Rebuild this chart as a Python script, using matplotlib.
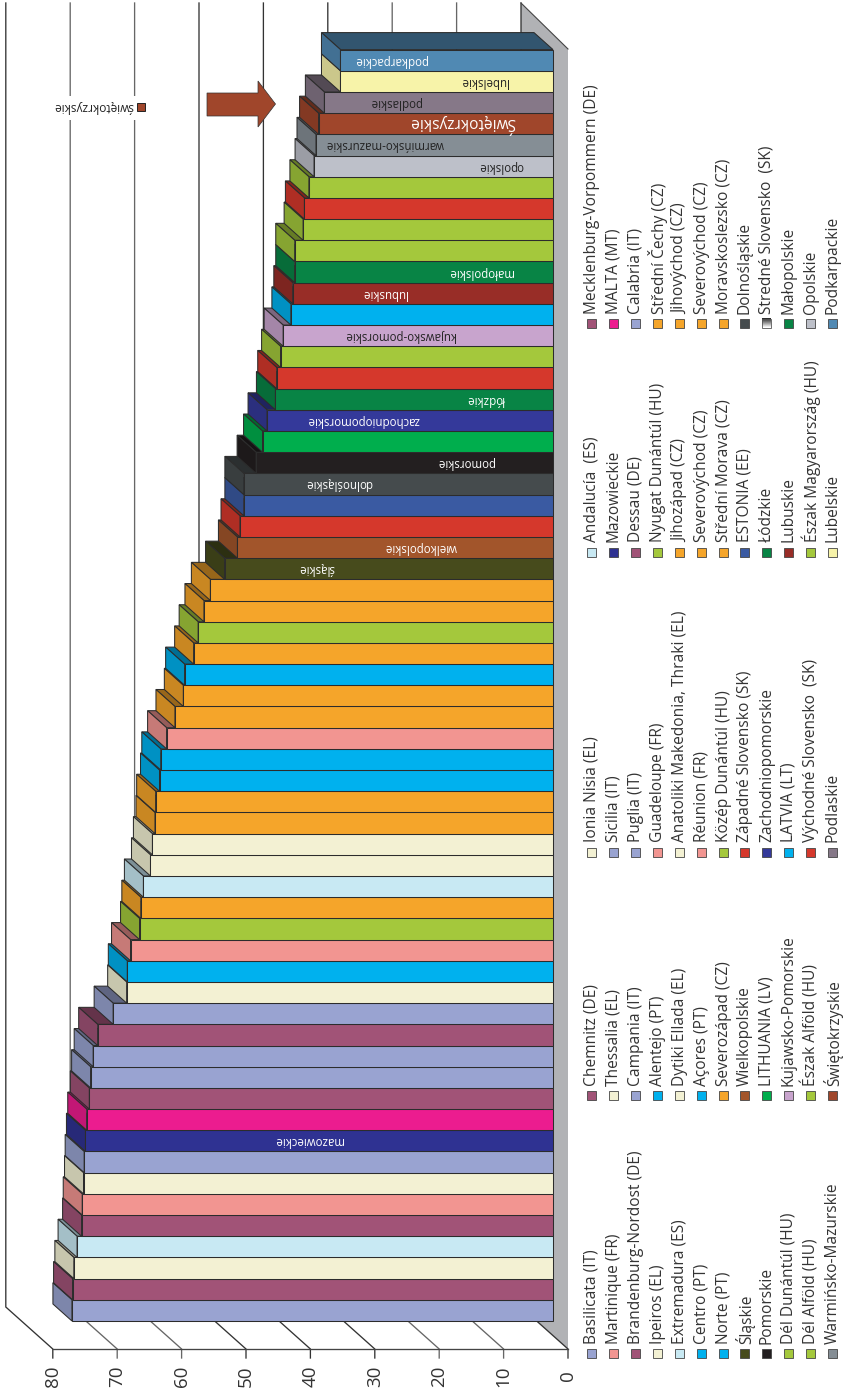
import numpy as np
import matplotlib
matplotlib.use("Agg")
import matplotlib.pyplot as plt
from matplotlib.patches import Polygon, Rectangle

plt.rcParams["font.family"] = ["Open Sans", "DejaVu Sans"]

# palette
C = {
    "lilac": "#99a3d1", "plum": "#a15377", "cream": "#f3f1d3", "lblue": "#c8e9f3",
    "pink": "#f29591", "navy": "#2f3292", "magenta": "#ec1c8f", "cyan": "#00b1ee",
    "green": "#a4c83c", "orange": "#f5a52a", "olive": "#474b1c", "brown": "#a2552b",
    "red": "#d5382c", "blue": "#3a5aa2", "dark": "#454b4d", "black": "#231f20",
    "lgreen": "#00ae4d", "znavy": "#34399a", "dgreen": "#088445", "kuj": "#c8a4cd",
    "maroon": "#982d27", "lgrey": "#bdc0c9", "warm": "#858e95", "rust": "#a0462b",
    "podl": "#867888", "yellow": "#f7f3a9", "steel": "#5089b3",
}

# bars, bottom of the picture first
bar_values = [
    74.7, 74.6, 74.4, 73.9, 73.2, 73.1, 72.9, 72.8, 72.6, 72.4,
    72.0, 71.8, 71.4, 70.7, 68.3, 66.2, 66.1, 65.6, 64.2, 64.0,
    63.6, 62.5, 62.2, 61.8, 61.7, 61.1, 60.9, 60.0, 58.7, 57.4,
    57.2, 55.8, 55.1, 54.2, 53.2, 51.0, 49.0, 48.6, 48.0, 48.0,
    46.1, 45.1, 44.4, 43.1, 42.9, 42.3, 41.9, 40.7, 40.4, 40.1,
    40.1, 38.8, 38.6, 37.9, 37.1, 36.8, 36.4, 35.5, 33.0, 33.0,
]
bar_colors = [
    "lilac", "plum", "cream", "lblue", "plum", "pink", "cream", "lilac", "navy", "magenta",
    "plum", "lilac", "lilac", "plum", "lilac", "cream", "cyan", "pink", "green", "orange",
    "lblue", "cream", "cream", "orange", "orange", "cyan", "cyan", "pink", "orange", "orange",
    "cyan", "orange", "green", "orange", "orange", "olive", "brown", "red", "blue", "dark",
    "black", "lgreen", "znavy", "dgreen", "red", "green", "kuj", "cyan", "maroon", "dgreen",
    "green", "green", "red", "green", "lgrey", "warm", "rust", "podl", "yellow", "steel",
]

# labels printed on the bars: bar index, text, colour, centre in px
bar_labels = [
    (8, "mazowieckie", "white", 309),
    (35, "śląskie", "white", 316),
    (36, "wielkopolskie", "white", 421),
    (39, "dolnośląskie", "white", 339),
    (40, "pomorskie", "white", 465),
    (42, "zachodniopomorskie", "white", 363),
    (43, "łódzkie", "white", 487),
    (46, "kujawsko-pomorskie", "#222222", 400),
    (48, "lubuskie", "white", 385),
    (49, "małopolskie", "white", 481),
    (54, "opolskie", "#222222", 501),
    (55, "warmińsko-mazurskie", "#222222", 385),
    (57, "podlaskie", "#222222", 395),
    (58, "lubelskie", "#222222", 484),
    (59, "podkarpackie", "white", 391),
]

tick_values = [0, 10, 20, 30, 40, 50, 60, 70, 80]

legend_names = [
    ["Basilicata (IT)", "Martinique (FR)", "Brandenburg-Nordost (DE)", "Ipeiros (EL)",
     "Extremadura (ES)", "Centro (PT)", "Norte (PT)", "Śląskie", "Pomorskie",
     "Dél Dunántúl (HU)", "Dél Alföld (HU)", "Warmińsko-Mazurskie"],
    ["Chemnitz (DE)", "Thessalia (EL)", "Campania (IT)", "Alentejo (PT)",
     "Dytiki Ellada (EL)", "Açores (PT)", "Severozápad (CZ)", "Wielkopolskie",
     "LITHUANIA (LV)", "Kujawsko-Pomorskie", "Észak Alföld (HU)", "Świętokrzyskie"],
    ["Ionia Nisia (EL)", "Sicilia (IT)", "Puglia (IT)", "Guadeloupe (FR)",
     "Anatoliki Makedonia, Thraki (EL)", "Réunion (FR)", "Közép Dunántúl (HU)",
     "Západné Slovensko (SK)", "Zachodniopomorskie", "LATVIA (LT)",
     "Východné Slovensko  (SK)", "Podlaskie"],
    ["Andalucía  (ES)", "Mazowieckie", "Dessau (DE)", "Nyugat Dunántúl (HU)",
     "Jihozápad (CZ)", "Severovýchod (CZ)", "Střední Morava (CZ)", "ESTONIA (EE)",
     "Łódzkie", "Lubuskie", "Észak Magyarország (HU)", "Lubelskie"],
    ["Mecklenburg-Vorpommern (DE)", "MALTA (MT)", "Calabria (IT)", "Střední Čechy (CZ)",
     "Jihovýchod (CZ)", "Severovýchod (CZ)", "Moravskoslezsko (CZ)", "Dolnośląskie",
     "Stredné Slovensko  (SK)", "Małopolskie", "Opolskie", "Podkarpackie"],
]
legend_colors = [
    ["lilac", "pink", "plum", "cream", "lblue", "cyan", "cyan", "olive", "black", "green", "green", "warm"],
    ["plum", "cream", "lilac", "cyan", "cream", "cyan", "orange", "brown", "lgreen", "kuj", "green", "rust"],
    ["cream", "lilac", "lilac", "pink", "cream", "pink", "green", "red", "znavy", "cyan", "red", "podl"],
    ["lblue", "navy", "plum", "green", "orange", "orange", "orange", "blue", "dgreen", "maroon", "green", "yellow"],
    ["plum", "magenta", "lilac", "orange", "orange", "orange", "orange", "dark", None, "dgreen", "lgrey", "steel"],
]

W, H = 845, 1392
PX_PER_UNIT = 6.44
PX_PER_BAR = 21.19
X0, Y0 = 553, 1321  # front corner of the first bar


def shade(color, k):
    rgb = np.array(matplotlib.colors.to_rgb(color))
    return tuple(rgb * k)


def to_value(px):
    return (X0 - px) / PX_PER_UNIT


fig = plt.figure(figsize=(W / 100, H / 100), dpi=100)

# back layer in pixel coordinates: walls, floor, ticks, legends
deco = fig.add_axes([0, 0, 1, 1], zorder=1)
deco.set_xlim(0, W)
deco.set_ylim(H, 0)
deco.axis("off")

deco.add_patch(Polygon([(521, 3), (568, 49), (568, 1349), (521, 1307)],
                       closed=True, fc="#b1b2b5", ec="none", zorder=1))

for t in tick_values:
    xt = 568 - t * PX_PER_UNIT
    col = "#333333" if t in (0, 30, 40, 50, 80) else "#666666"
    deco.plot([xt - 47, xt - 47, xt, xt], [3, 1307, 1349, 1358],
              color=col, lw=0.95, zorder=2, solid_joinstyle="miter")
    deco.text(xt, 1376, str(t), rotation=90, ha="center", va="center",
              fontsize=13.5, color="#333333", zorder=3)
deco.plot([53, 568], [1349, 1349], color="#444444", lw=0.95, zorder=2)
deco.plot([521, 568], [3, 49], color="#444444", lw=0.8, zorder=2)

# small key at the top, breaks the wall lines behind it
deco.add_patch(Rectangle((50, 96), 90, 24, fc="white", ec="none", zorder=3))
deco.add_patch(Rectangle((137, 103), 8, 8, fc=C["rust"], ec="#222222", lw=0.7, zorder=4))
deco.text(133, 107, "świętokrzyskie", rotation=180, ha="right", va="center",
          fontsize=8.6, color="#222222", zorder=4)

# arrow
deco.add_patch(Polygon([(207, 93), (258, 93), (258, 81), (275.5, 104), (258, 127), (258, 116), (207, 116)],
                       closed=True, fc=C["rust"], ec="#333333", lw=0.5, zorder=4))

# five-column legend, written bottom to top
legend_marker_y = [1353, 1095, 852, 552, 323]
legend_row_x = [592, 614, 636, 658, 680, 702, 724, 745, 767, 789, 811, 833]
for col, my in enumerate(legend_marker_y):
    for row, rx in enumerate(legend_row_x):
        key = legend_colors[col][row]
        if key is None:
            grad = np.linspace(0.15, 0.95, 16).reshape(-1, 1)
            deco.imshow(grad, extent=(rx - 4.5, rx + 4.5, my + 4.5, my - 4.5), cmap="gray",
                        vmin=0, vmax=1, aspect="auto", zorder=4)
            deco.add_patch(Rectangle((rx - 4.5, my - 4.5), 9, 9, fc="none", ec="#555555", lw=0.6, zorder=5))
        else:
            deco.add_patch(Rectangle((rx - 4.5, my - 4.5), 9, 9, fc=C[key], ec="#444444", lw=0.6, zorder=4))
        deco.text(rx, my - 9.5, legend_names[col][row], rotation=90, ha="center", va="bottom",
                  fontsize=11.2, color="#333333", zorder=4)
deco.set_xlim(0, W)
deco.set_ylim(H, 0)

# bars in value / bar-index coordinates
ax = fig.add_axes([0, 0, 1, 1], zorder=2)
ax.patch.set_alpha(0)
ax.set_xlim(to_value(0), to_value(W))
ax.set_ylim((Y0 - H) / PX_PER_BAR, Y0 / PX_PER_BAR)
ax.axis("off")

DV = 19 / PX_PER_UNIT
DI = 17 / PX_PER_BAR
edge = dict(ec="#2c2c2c", lw=0.75, joinstyle="miter")
for i in range(len(bar_values)):
    v = bar_values[i]
    base = C[bar_colors[i]]
    ax.fill([v, v + DV, DV, 0], [i + 1, i + 1 + DI, i + 1 + DI, i + 1], fc=shade(base, 0.62), **edge)
    ax.fill([v, v + DV, v + DV, v], [i, i + DI, i + 1 + DI, i + 1], fc=shade(base, 0.82), **edge)
    ax.fill([0, v, v, 0], [i, i, i + 1, i + 1], fc=base, **edge)

for i, name, color, cx in bar_labels:
    ax.text(to_value(cx), i + 0.5, name, rotation=180, ha="center", va="center",
            fontsize=8.3, color=color)
ax.text(to_value(462.5), 56.5, "Świętokrzyskie", rotation=180, ha="center", va="center",
        fontsize=11.2, color="white")

fig.savefig("out.png", dpi=100)
